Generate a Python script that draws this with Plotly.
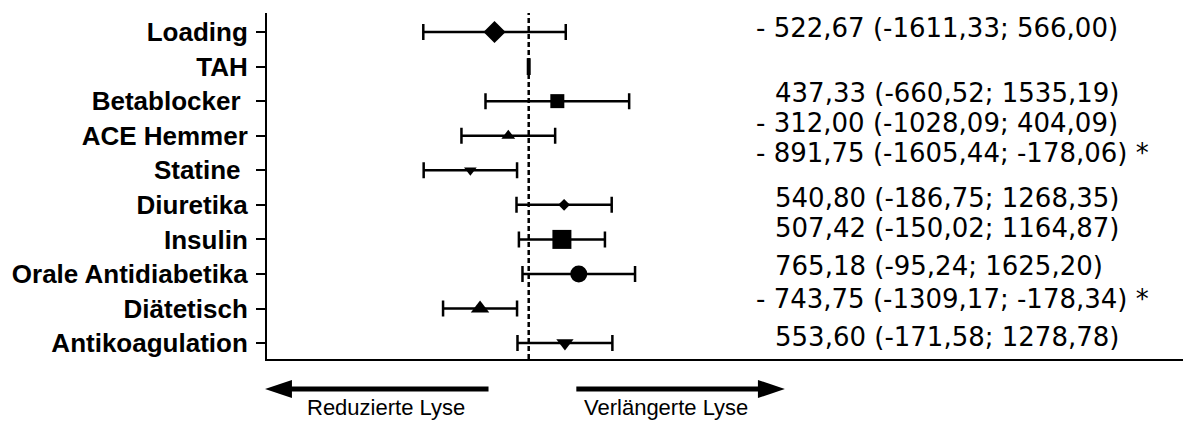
import plotly.graph_objects as go

# ---- data ----
categories = ["Loading", "TAH", "Betablocker ", "ACE Hemmer", "Statine ", "Diuretika",
              "Insulin", "Orale Antidiabetika", "Diätetisch", "Antikoagulation"]
means = [-522.67, 0.0, 437.33, -312.00, -891.75, 540.80, 507.42, 765.18, -743.75, 553.60]
ci_low = [-1611.33, 0.0, -660.52, -1028.09, -1605.44, -186.75, -150.02, -95.24, -1309.17, -171.58]
ci_high = [566.00, 0.0, 1535.19, 404.09, -178.06, 1268.35, 1164.87, 1625.20, -178.34, 1278.78]
significant = [False, False, False, False, True, False, False, False, True, False]
has_text = [True, False, True, True, True, True, True, True, True, True]
left_label = "Reduzierte Lyse"
right_label = "Verlängerte Lyse"

# ---- styles ----
symbols = ["diamond", "line-ns-open", "square", "triangle-up", "triangle-down", "diamond",
           "square", "circle", "triangle-up", "triangle-down"]
sizes = [17, 12, 14, 12, 11, 9, 19, 17, 16, 15]
line_w = [0, 4, 0, 0, 0, 0, 0, 0, 0, 0]
text_shift = [4, 0, 8, 13, 17, 7, 11, 8, 10, 6]

L, R, T, B = 265, 1183, 13, 359
W, H = R - L, B - T


def px(x):
    return (x - L) / W


def py(y):
    return (B - y) / H


def fmt(v):
    return f"{v:.2f}".replace(".", ",")


fig = go.Figure()
fig.add_trace(go.Scatter(
    x=means, y=categories, mode="markers",
    marker=dict(symbol=symbols, size=sizes, color="black", opacity=1,
                line=dict(color="black", width=line_w)),
    error_x=dict(type="data", symmetric=False,
                 array=[h - m for h, m in zip(ci_high, means)],
                 arrayminus=[m - l for m, l in zip(means, ci_low)],
                 color="black", thickness=2.5, width=8),
    hoverinfo="skip",
))

# zero line
fig.add_shape(type="line", xref="x", yref="paper", x0=0, x1=0, y0=0, y1=1,
              line=dict(color="black", width=2.5, dash="5px,3px"))

annotations = []
for i, cat in enumerate(categories):
    if not has_text[i]:
        continue
    m = means[i]
    sign = "- " if m < 0 else ""
    txt = f"{sign}{fmt(abs(m))} ({fmt(ci_low[i])}; {fmt(ci_high[i])})"
    if significant[i]:
        txt += " *"
    annotations.append(dict(
        x=px(753 if m < 0 else 772), xref="paper", xanchor="left",
        y=cat, yref="y", yanchor="middle", yshift=text_shift[i],
        text=txt, showarrow=False,
        font=dict(family="DejaVu Sans", size=26, color="black"),
    ))

# direction arrows
ay = 389
fig.add_shape(type="line", xref="paper", yref="paper", x0=px(285), x1=px(487), y0=py(ay), y1=py(ay),
              line=dict(color="black", width=5))
fig.add_shape(type="path", xref="paper", yref="paper",
              path=f"M {px(263)},{py(ay)} L {px(290)},{py(ay-9)} L {px(290)},{py(ay+9)} Z",
              fillcolor="black", line=dict(color="black", width=0))
fig.add_shape(type="line", xref="paper", yref="paper", x0=px(575), x1=px(760), y0=py(ay), y1=py(ay),
              line=dict(color="black", width=5))
fig.add_shape(type="path", xref="paper", yref="paper",
              path=f"M {px(784)},{py(ay)} L {px(757)},{py(ay-9)} L {px(757)},{py(ay+9)} Z",
              fillcolor="black", line=dict(color="black", width=0))

annotations.append(dict(x=px(384), y=py(407), xref="paper", yref="paper", text=left_label,
                        showarrow=False, xanchor="center", yanchor="middle", borderpad=0,
                        font=dict(family="Arial, Liberation Sans", size=22, color="black")))
annotations.append(dict(x=px(665), y=py(407), xref="paper", yref="paper", text=right_label,
                        showarrow=False, xanchor="center", yanchor="middle", borderpad=0,
                        font=dict(family="Arial, Liberation Sans", size=22, color="black")))

ticktext = [c[:-1] + "\u00a0" if c.endswith(" ") else c for c in categories]

fig.update_layout(
    width=1198, height=423,
    margin=dict(l=L, r=1198 - R, t=T, b=423 - B),
    paper_bgcolor="white", plot_bgcolor="white",
    showlegend=False,
    annotations=annotations,
    xaxis=dict(range=[-4000, 10000], showline=True, linecolor="black", linewidth=2,
               showticklabels=False, ticks="", showgrid=False, zeroline=False),
    yaxis=dict(type="category", categoryorder="array", categoryarray=categories,
               range=[9.46, -0.55], tickvals=categories, ticktext=ticktext,
               showline=True, linecolor="black", linewidth=2,
               ticks="outside", ticklen=9, tickwidth=2, tickcolor="black",
               ticklabelstandoff=3,
               tickfont=dict(family="Arial, Liberation Sans", size=26, color="black", weight="bold"),
               showgrid=False, zeroline=False),
)

fig.write_html("out.html")
